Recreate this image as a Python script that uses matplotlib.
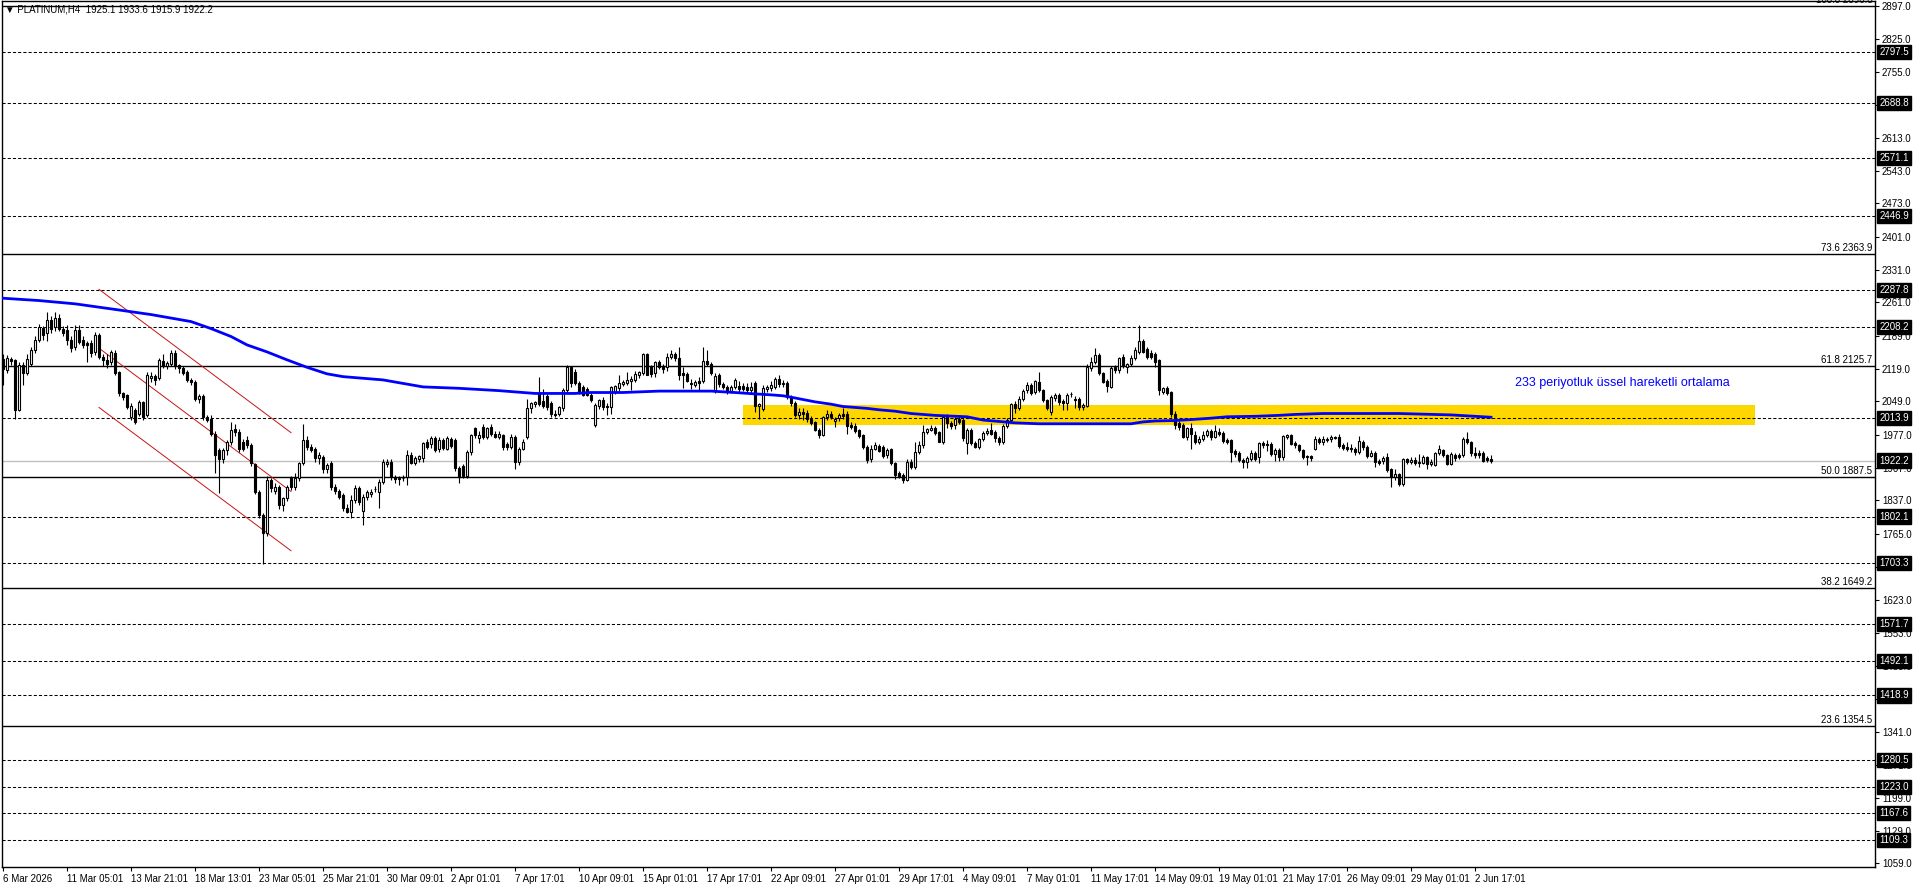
import numpy as np
import matplotlib
matplotlib.use("Agg")
import matplotlib.pyplot as plt
from matplotlib.patches import Rectangle
from matplotlib.transforms import blended_transform_factory

plt.rcParams["font.family"] = ["Liberation Sans", "DejaVu Sans"]

# H4 candles (bar 0 = 6 Mar 2026)
opens = [
    2140, 2116, 2140, 2137, 2030, 2128, 2110, 2130, 2160, 2180,
    2206, 2195, 2223, 2208, 2227, 2203, 2202, 2180, 2165, 2202,
    2180, 2173, 2173, 2155, 2191, 2145, 2138, 2134, 2152, 2112,
    2066, 2062, 2016, 2030, 2023, 2048, 2020, 2100, 2103, 2100,
    2135, 2125, 2130, 2152, 2126, 2120, 2112, 2095, 2090, 2055,
    2060, 2015, 2012, 1980, 1945, 1925, 1945, 1961, 1990, 1983,
    1962, 1966, 1955, 1914, 1855, 1805, 1766, 1880, 1858, 1866,
    1827, 1841, 1884, 1866, 1884, 1916, 1966, 1952, 1948, 1927,
    1930, 1905, 1918, 1866, 1858, 1848, 1820, 1813, 1837, 1863,
    1815, 1845, 1850, 1862, 1855, 1877, 1915, 1920, 1888, 1882,
    1885, 1887, 1934, 1918, 1925, 1927, 1962, 1958, 1970, 1948,
    1966, 1948, 1968, 1966, 1906, 1910, 1890, 1941, 1991, 1970,
    1995, 1973, 1995, 1980, 1973, 1977, 1958, 1952, 1973, 1920,
    1948, 1973, 2034, 2043, 2066, 2050, 2060, 2045, 2023, 2023,
    2034, 2073, 2123, 2112, 2088, 2080, 2076, 2063,
    1998, 2039, 2053, 2040, 2038, 2070, 2077, 2087, 2089, 2093,
    2095, 2106, 2109, 2151, 2124, 2109, 2134, 2125, 2122, 2145,
    2150, 2141, 2109, 2107, 2088, 2085, 2093, 2093, 2135, 2129,
    2072, 2105, 2086, 2080, 2072, 2079, 2083, 2082, 2080, 2073,
    2088, 2040, 2032, 2075, 2077, 2079, 2097, 2089, 2089, 2059,
    2045, 2020, 2027, 2025, 2012, 2005, 1988, 1977, 2015, 2022,
    2006, 2013, 2023, 2022, 1998, 1997, 1987, 1977, 1952, 1925,
    1948, 1953, 1952, 1934, 1946, 1916, 1895, 1891, 1881, 1920,
    1909, 1941, 1955, 1984, 1988, 1991, 1983, 1963, 2016, 2003,
    1998, 2012, 2009, 1959, 1988, 1960, 1952, 1968, 1981, 1987,
    1983, 1970, 1963, 1996, 2010, 2043, 2034, 2055, 2073, 2084,
    2070, 2091, 2073, 2052, 2027, 2057, 2063, 2050, 2045, 2064,
    2054, 2054, 2036, 2040, 2120, 2134, 2148, 2109, 2093, 2080,
    2122, 2117, 2145, 2122, 2129, 2143, 2155, 2179, 2162, 2152,
    2150, 2137, 2070, 2077, 2069, 2023, 2002, 1998, 1973, 1991,
    1977, 1963, 1969, 1976, 1985, 1973, 1984, 1982, 1966, 1966,
    1943, 1939, 1924, 1920, 1926, 1939, 1929, 1959, 1958, 1958,
    1936, 1945, 1930, 1973, 1976, 1960, 1955, 1945, 1931, 1932,
    1948, 1968, 1961, 1966, 1968, 1973, 1972, 1955, 1952, 1950,
    1948, 1941, 1963, 1952, 1931, 1939, 1922, 1922, 1930, 1904,
    1888, 1893, 1872, 1925, 1920, 1924, 1918, 1918, 1930, 1915,
    1913, 1938, 1945, 1934, 1915, 1935, 1934, 1934, 1968, 1961,
    1938, 1938, 1938, 1927, 1925.1,
]
highs = [
    2150, 2148, 2145, 2140, 2134, 2134, 2150, 2166, 2188, 2215,
    2210, 2241, 2232, 2240, 2236, 2210, 2212, 2190, 2212, 2212,
    2190, 2178, 2180, 2198, 2196, 2150, 2150, 2160, 2158, 2115,
    2070, 2064, 2045, 2035, 2052, 2050, 2112, 2112, 2108, 2142,
    2150, 2135, 2158, 2160, 2130, 2125, 2116, 2100, 2095, 2064,
    2065, 2020, 2020, 1985, 1950, 1950, 1966, 2005, 2000, 1990,
    1968, 1975, 1960, 1918, 1860, 1810, 1890, 1885, 1875, 1870,
    1845, 1870, 1890, 1895, 1920, 2000, 1975, 1958, 1952, 1940,
    1935, 1918, 1922, 1872, 1862, 1852, 1830, 1848, 1870, 1868,
    1850, 1860, 1862, 1868, 1882, 1925, 1925, 1925, 1892, 1890,
    1892, 1945, 1940, 1932, 1935, 1962, 1968, 1975, 1975, 1972,
    1970, 1975, 1972, 1970, 1910, 1915, 1945, 1980, 1995, 1985,
    2000, 1995, 2000, 1985, 1985, 1980, 1962, 1980, 1978, 1952,
    1968, 2055, 2048, 2050, 2102, 2075, 2065, 2050, 2030, 2040,
    2078, 2128, 2125, 2118, 2092, 2085, 2080, 2068,
    2045, 2055, 2058, 2045, 2081, 2085, 2105, 2094, 2113, 2103,
    2115, 2115, 2153, 2153, 2128, 2136, 2138, 2130, 2152, 2159,
    2155, 2165, 2123, 2112, 2098, 2095, 2101, 2165, 2158, 2133,
    2109, 2110, 2090, 2085, 2085, 2100, 2092, 2088, 2088, 2090,
    2092, 2045, 2085, 2085, 2092, 2102, 2105, 2095, 2092, 2062,
    2050, 2035, 2035, 2030, 2018, 2008, 1992, 2018, 2030, 2028,
    2015, 2025, 2035, 2028, 2005, 2002, 1990, 1980, 1955, 1955,
    1962, 1958, 1956, 1950, 1950, 1920, 1900, 1895, 1925, 1925,
    1962, 1965, 1998, 1992, 1999, 1996, 1986, 2020, 2023, 2008,
    2015, 2020, 2015, 1992, 1992, 1965, 1970, 1985, 1992, 2002,
    1988, 1974, 2000, 2013, 2046, 2050, 2060, 2075, 2090, 2088,
    2095, 2111, 2076, 2055, 2062, 2066, 2068, 2055, 2066, 2070,
    2060, 2058, 2045, 2130, 2145, 2163, 2152, 2112, 2096, 2125,
    2128, 2145, 2150, 2132, 2148, 2165, 2213, 2183, 2166, 2158,
    2155, 2140, 2080, 2083, 2072, 2028, 2008, 2002, 1995, 2002,
    1985, 1975, 1985, 1990, 1990, 1998, 1992, 1985, 1970, 1968,
    1946, 1942, 1928, 1932, 1945, 1942, 1962, 1964, 1966, 1962,
    1950, 1950, 1978, 1980, 1980, 1965, 1958, 1948, 1935, 1935,
    1975, 1972, 1975, 1972, 1977, 1975, 1979, 1960, 1963, 1958,
    1952, 1975, 1966, 1955, 1945, 1942, 1925, 1932, 1939, 1906,
    1905, 1896, 1927, 1928, 1930, 1930, 1936, 1934, 1933, 1925,
    1940, 1955, 1948, 1936, 1940, 1938, 1938, 1972, 1983, 1964,
    1952, 1945, 1942, 1932, 1933.6,
]
lows = [
    2084, 2110, 2128, 2012, 2028, 2084, 2105, 2125, 2152, 2176,
    2180, 2178, 2195, 2200, 2200, 2188, 2170, 2155, 2160, 2172,
    2163, 2134, 2145, 2148, 2140, 2125, 2120, 2128, 2105, 2060,
    2052, 2032, 2010, 2000, 2018, 2010, 2015, 2090, 2085, 2095,
    2120, 2118, 2125, 2118, 2110, 2105, 2090, 2085, 2050, 2045,
    2010, 2005, 1975, 1895, 1852, 1918, 1935, 1955, 1975, 1940,
    1942, 1950, 1910, 1850, 1800, 1700, 1760, 1855, 1850, 1818,
    1815, 1835, 1860, 1860, 1878, 1912, 1945, 1940, 1920, 1915,
    1895, 1895, 1860, 1850, 1840, 1815, 1810, 1800, 1832, 1828,
    1785, 1838, 1845, 1855, 1820, 1872, 1908, 1880, 1875, 1870,
    1878, 1870, 1915, 1912, 1920, 1920, 1948, 1950, 1940, 1940,
    1945, 1944, 1950, 1900, 1874, 1885, 1885, 1935, 1970, 1960,
    1968, 1968, 1975, 1970, 1968, 1945, 1945, 1948, 1905, 1912,
    1944, 1968, 2025, 2038, 2040, 2035, 2030, 2015, 2015, 2018,
    2028, 2068, 2080, 2085, 2065, 2060, 2060, 2048,
    1995, 2032, 2030, 2020, 2023, 2065, 2072, 2082, 2085, 2073,
    2090, 2100, 2105, 2105, 2102, 2102, 2118, 2110, 2115, 2140,
    2135, 2095, 2077, 2090, 2075, 2080, 2073, 2088, 2125, 2105,
    2068, 2080, 2075, 2065, 2068, 2075, 2070, 2072, 2070, 2068,
    2027, 2012, 2028, 2070, 2072, 2075, 2080, 2080, 2055, 2040,
    2015, 2012, 2010, 2005, 1998, 1985, 1970, 1975, 2010, 2012,
    1995, 2008, 2012, 1980, 1990, 1982, 1970, 1948, 1918, 1920,
    1944, 1940, 1928, 1928, 1912, 1882, 1884, 1875, 1878, 1905,
    1905, 1936, 1950, 1980, 1985, 1978, 1962, 1958, 1991, 1990,
    1990, 2000, 1965, 1936, 1955, 1950, 1946, 1964, 1978, 1978,
    1962, 1956, 1958, 1992, 2005, 2025, 2030, 2050, 2068, 2062,
    2065, 2070, 2048, 2030, 2020, 2050, 2042, 2030, 2030, 2058,
    2035, 2030, 2030, 2036, 2115, 2130, 2105, 2088, 2070, 2078,
    2110, 2109, 2120, 2110, 2125, 2138, 2150, 2152, 2140, 2140,
    2123, 2063, 2065, 2062, 2016, 1990, 1988, 1970, 1966, 1948,
    1958, 1958, 1965, 1972, 1966, 1970, 1975, 1960, 1958, 1920,
    1930, 1920, 1906, 1906, 1922, 1922, 1918, 1950, 1942, 1932,
    1922, 1922, 1924, 1968, 1955, 1950, 1940, 1925, 1912, 1922,
    1944, 1958, 1955, 1962, 1963, 1968, 1950, 1945, 1942, 1940,
    1935, 1936, 1945, 1927, 1930, 1909, 1912, 1915, 1898, 1865,
    1880, 1868, 1868, 1915, 1915, 1912, 1909, 1914, 1905, 1910,
    1910, 1935, 1930, 1912, 1912, 1922, 1925, 1930, 1958, 1932,
    1927, 1928, 1920, 1920, 1915.9,
]
closes = [
    2118, 2141, 2136, 2030, 2128, 2110, 2140, 2160, 2180, 2209,
    2192, 2223, 2203, 2227, 2205, 2196, 2180, 2163, 2202, 2177,
    2170, 2170, 2152, 2191, 2145, 2138, 2130, 2155, 2109, 2066,
    2059, 2038, 2039, 2005, 2048, 2016, 2105, 2103, 2095, 2137,
    2125, 2131, 2152, 2125, 2120, 2110, 2095, 2090, 2055, 2060,
    2016, 2010, 1980, 1934, 1925, 1945, 1961, 1988, 1983, 1948,
    1948, 1955, 1916, 1855, 1805, 1766, 1880, 1863, 1866, 1827,
    1841, 1866, 1866, 1884, 1916, 1966, 1952, 1945, 1927, 1935,
    1905, 1913, 1866, 1858, 1845, 1820, 1813, 1837, 1863, 1834,
    1845, 1855, 1855, 1862, 1877, 1920, 1920, 1888, 1882, 1885,
    1884, 1934, 1918, 1927, 1931, 1959, 1952, 1970, 1945, 1966,
    1950, 1970, 1953, 1906, 1888, 1890, 1941, 1977, 1977, 1978,
    1973, 1991, 1980, 1973, 1980, 1952, 1952, 1973, 1920, 1948,
    1963, 2034, 2045, 2047, 2043, 2040, 2038, 2023, 2020, 2038,
    2073, 2123, 2088, 2088, 2070, 2063, 2063, 2052,
    2041, 2053, 2036, 2037, 2079, 2082, 2089, 2091, 2095, 2096,
    2108, 2112, 2151, 2106, 2108, 2134, 2123, 2118, 2145, 2150,
    2141, 2105, 2106, 2093, 2086, 2090, 2088, 2135, 2129, 2109,
    2103, 2086, 2079, 2072, 2080, 2095, 2076, 2076, 2073, 2080,
    2039, 2043, 2078, 2080, 2084, 2098, 2086, 2086, 2059, 2045,
    2020, 2027, 2023, 2011, 2002, 1988, 1977, 2016, 2022, 2016,
    2012, 2020, 2018, 1996, 1995, 1986, 1975, 1952, 1923, 1948,
    1955, 1943, 1931, 1945, 1916, 1891, 1888, 1881, 1920, 1909,
    1941, 1955, 1984, 1989, 1991, 1982, 1963, 2016, 2002, 1996,
    2012, 2005, 1970, 1988, 1959, 1952, 1968, 1982, 1986, 1980,
    1970, 1963, 1996, 2010, 2043, 2034, 2055, 2072, 2084, 2068,
    2093, 2073, 2052, 2034, 2058, 2063, 2048, 2045, 2063, 2065,
    2052, 2036, 2041, 2122, 2134, 2148, 2109, 2091, 2082, 2120,
    2117, 2143, 2125, 2129, 2143, 2159, 2179, 2155, 2145, 2145,
    2134, 2073, 2077, 2068, 2023, 1998, 1995, 1973, 1991, 1980,
    1963, 1969, 1977, 1985, 1973, 1985, 1980, 1964, 1963, 1941,
    1936, 1923, 1920, 1927, 1939, 1926, 1959, 1956, 1955, 1936,
    1945, 1930, 1975, 1976, 1958, 1955, 1945, 1930, 1929, 1927,
    1968, 1963, 1968, 1968, 1973, 1970, 1953, 1950, 1948, 1946,
    1941, 1965, 1951, 1931, 1939, 1920, 1918, 1927, 1902, 1886,
    1893, 1873, 1925, 1920, 1924, 1918, 1920, 1930, 1915, 1920,
    1938, 1947, 1934, 1915, 1936, 1927, 1929, 1969, 1961, 1938,
    1934, 1934, 1922, 1923, 1922.2,
]

# 233 EMA, read at points along the line
ema_bars = [0, 9, 18, 28, 37, 47, 52, 57, 61, 66, 71, 76, 81, 85, 95, 105, 114,
            124, 133, 143, 147, 155, 164, 177, 183, 188, 192, 195, 197, 200, 203,
            207, 210, 216, 219, 223, 227, 233, 241, 245, 249, 253, 259, 282, 285,
            288, 293, 297, 302, 306, 313, 319, 323, 330, 349, 362, 366, 372]
ema_vals = [2270, 2265, 2258, 2246, 2235, 2220, 2205, 2188, 2170, 2155, 2138, 2122,
            2108, 2102, 2095, 2080, 2077, 2072, 2066, 2066, 2068, 2068, 2071, 2071,
            2068, 2065, 2063, 2061, 2058, 2053, 2048, 2043, 2038, 2034, 2031, 2028,
            2023, 2019, 2016, 2009, 2006, 2003, 2001, 2001, 2005, 2007, 2008, 2010,
            2013, 2016, 2017, 2019, 2021, 2023, 2023, 2020, 2018, 2015]

dashed_levels = [2797.5, 2688.8, 2571.1, 2446.9, 2287.8, 2208.2, 2013.9, 1802.1,
                 1703.3, 1571.7, 1492.1, 1418.9, 1280.5, 1223.0, 1167.6, 1109.3]
fib_pcts = ["100.0", "73.6", "61.8", "50.0", "38.2", "23.6"]
fib_prices = [2896.8, 2363.9, 2125.7, 1887.5, 1649.2, 1354.5]
last_price = 1922.2

ytick_vals = [2897, 2825, 2755, 2685, 2613, 2543, 2473, 2401, 2331, 2261, 2189,
              2119, 2049, 1977, 1907, 1837, 1765, 1695, 1623, 1553, 1483, 1411,
              1341, 1271, 1199, 1129, 1059]
xtick_labels = ["6 Mar 2026", "11 Mar 05:01", "13 Mar 21:01", "18 Mar 13:01",
                "23 Mar 05:01", "25 Mar 21:01", "30 Mar 09:01", "2 Apr 01:01",
                "7 Apr 17:01", "10 Apr 09:01", "15 Apr 01:01", "17 Apr 17:01",
                "22 Apr 09:01", "27 Apr 01:01", "29 Apr 17:01", "4 May 09:01",
                "7 May 01:01", "11 May 17:01", "14 May 09:01", "19 May 01:01",
                "21 May 17:01", "26 May 09:01", "29 May 01:01", "2 Jun 17:01"]

# drawn objects
channel_x = [24, 72]
channel_upper = [2289, 1982]
channel_mid = [2163, 1856]
channel_lower = [2036, 1729]
zone_x = [185, 438]
zone_y = [1998.4, 2041.2]
ema_note = "233 periyotluk üssel hareketli ortalama"

o = np.array(opens); h = np.array(highs); l = np.array(lows); c = np.array(closes)
x = np.arange(len(c))

fig = plt.figure(figsize=(19.16, 8.88), dpi=100)
ax = fig.add_axes([2 / 1916, 21 / 888, 1873 / 1916, 866 / 888])
ax.set_xlim(-0.25, 468)
ax.set_ylim(1051.4, 2906.8)

# yellow zone
ax.add_patch(Rectangle((zone_x[0], zone_y[0]), zone_x[1] - zone_x[0], zone_y[1] - zone_y[0],
                       facecolor="#FFD700", edgecolor="none", zorder=0.5))

for p in dashed_levels:
    ax.axhline(p, color="black", lw=0.75, ls=(0, (3, 2)), zorder=1)
tr = blended_transform_factory(ax.transAxes, ax.transData)
for pct, p in zip(fib_pcts, fib_prices):
    ax.axhline(p, color="black", lw=1.0, zorder=1)
    ax.text(0.9985, p + 2, f"{pct} {p:.1f}", transform=tr,
            ha="right", va="bottom", fontsize=7, color="black", zorder=2)
ax.axhline(last_price, color="#C0C0C0", lw=1.0, zorder=1)

# channel
for ys in (channel_upper, channel_mid, channel_lower):
    ax.plot(channel_x, ys, color="#C81414", lw=0.7, zorder=2)

# candles
ax.vlines(x, l, h, color="black", lw=0.8, zorder=3)
up = c >= o
face = np.where(up, "white", "black")
ax.bar(x, np.abs(c - o), bottom=np.minimum(o, c), width=0.55, color=face,
       edgecolor="black", linewidth=0.8, zorder=4)

# EMA
ax.plot(ema_bars, ema_vals, color="#0000FF", lw=2.0, zorder=5)
ax.text(378, 2088, ema_note, color="#0000FF", fontsize=9,
        ha="left", va="center", zorder=6)

# axes styling
for s in ax.spines.values():
    s.set_color("black")
    s.set_linewidth(1.0)
ax.yaxis.tick_right()
ax.set_yticks(ytick_vals)
ax.set_yticklabels([f"{v:.1f}" for v in ytick_vals])
ax.tick_params(axis="y", length=3, width=0.8, labelsize=7, pad=2, direction="out")
ax.set_xticks(np.arange(len(xtick_labels)) * 16)
ax.set_xticklabels(xtick_labels)
for t in ax.get_xticklabels():
    t.set_horizontalalignment("left")
ax.tick_params(axis="x", length=3, width=0.8, labelsize=7, pad=2, direction="out")

# price boxes on the right scale
for p in dashed_levels + [last_price]:
    ax.text(1.0022, p, f"{p:.1f}", transform=tr, ha="left", va="center", fontsize=7,
            color="white", clip_on=False, zorder=10,
            bbox=dict(boxstyle="square,pad=0.22", fc="black", ec="black"))

fig.text(5 / 1916, 1 - 9 / 888, "\u25bc PLATINUM,H4  1925.1 1933.6 1915.9 1922.2",
         fontsize=7, ha="left", va="center", color="black")

fig.savefig("out.png", dpi=100, facecolor="white")
